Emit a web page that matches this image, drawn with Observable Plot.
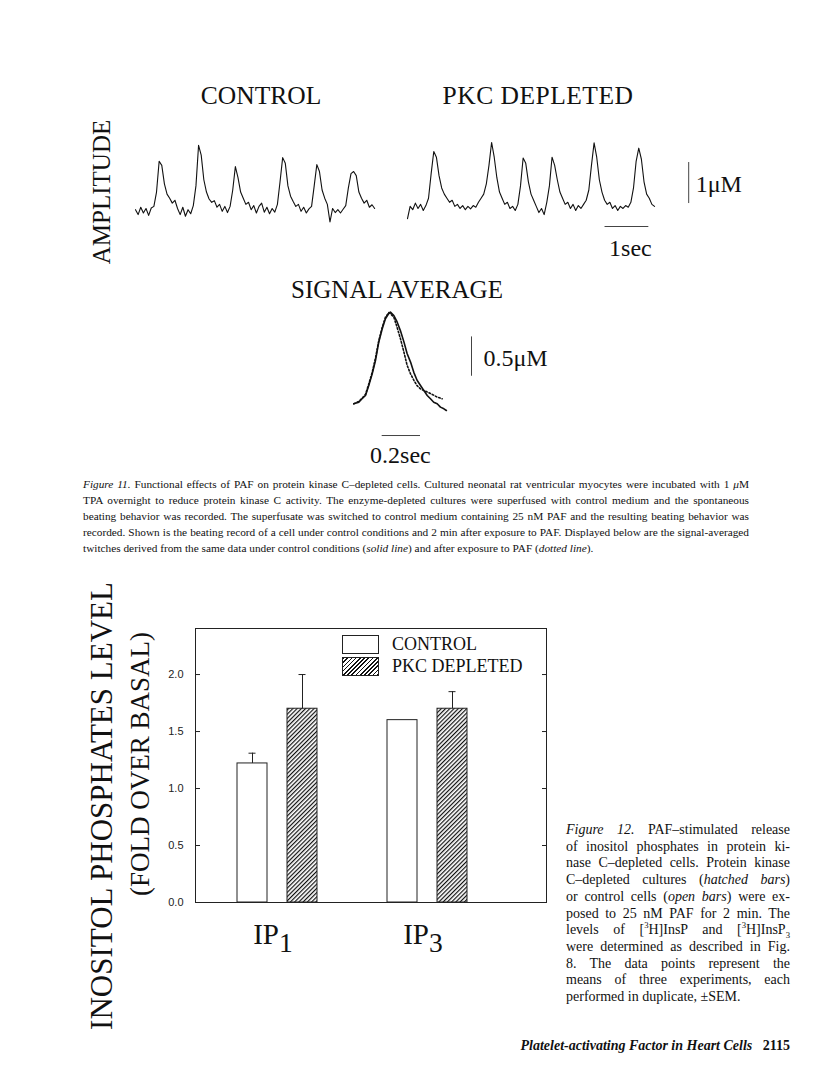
<!DOCTYPE html>
<html><head><meta charset="utf-8">
<script src="https://cdn.jsdelivr.net/npm/d3@7"></script>
<script src="https://cdn.jsdelivr.net/npm/@observablehq/plot@0.6"></script>
<style>
html,body{margin:0;padding:0;background:#fff;}
#page{position:relative;width:816px;height:1066px;overflow:hidden;background:#fff;color:#111;font-family:"Liberation Serif","Times New Roman",serif;}
.abs{position:absolute;}
.nw{white-space:nowrap;}
.cap{font-family:"Liberation Serif","Times New Roman",serif;color:#111;}
.cap sup,.cap sub{font-size:0.62em;line-height:0;}
svg{overflow:visible;}
</style></head><body><div id="page"></div>
<script>
// ---------- DATA ----------
// Figure 11: beating records (Ca amplitude, µM), sampled every 0.06 s
const SAMPLE_DT = 0.06;
const controlStart = 0;
const pkcStart = 6.21;
const controlTrace = [0.02,-0.1,0.08,-0.06,0.05,-0.12,0.06,0.1,0.45,1.2,1.1,0.65,0.4,0.3,0.18,0.25,0.05,-0.1,0.08,-0.14,0.02,-0.08,0.12,0.6,1.59,1.35,0.75,0.45,0.28,0.2,0.24,0.08,0.15,-0.02,0.1,-0.05,0.1,0.5,1.07,0.8,0.45,0.3,0.15,0.2,0.02,0.12,-0.06,0.1,0.18,-0.04,0.08,-0.08,0.05,-0.04,0.15,0.7,1.29,1.15,0.6,0.35,0.22,0.1,0.15,-0.02,0.08,-0.06,0.04,0.1,0.6,1.12,0.95,0.5,0.3,0.15,-0.28,0.05,-0.05,0.02,-0.06,0.03,0.12,0.55,0.9,0.95,0.85,0.45,0.3,0.18,0.25,0.08,0.14,0.05];
const pkcTrace = [-0.2,0.1,0.02,0.18,0.05,0.15,0.0,0.12,0.3,0.9,1.44,1.3,0.85,0.55,0.4,0.3,0.2,0.25,0.1,0.15,0.05,0.12,0.02,0.1,0.04,0.12,0.08,0.2,0.3,0.4,0.65,1.1,1.66,1.3,0.8,0.45,0.3,0.15,0.2,0.05,0.1,0.0,0.15,0.6,1.28,1.15,0.7,0.4,0.25,0.1,-0.05,0.05,-0.1,0.2,0.6,1.3,1.1,0.75,0.45,0.3,0.15,0.2,0.05,0.15,0.0,0.12,0.05,0.15,0.25,0.5,1.1,1.65,1.3,0.75,0.45,0.25,0.15,0.2,0.05,0.12,0.0,0.1,0.05,0.12,0.08,0.2,0.55,1.2,1.52,1.25,0.7,0.4,0.3,0.15,0.1];
// Signal average (time in ms, amplitude in µM)
const avgControlTime = [0,26,43,61,78,96,113,130,148,165,183,191,209,226,243,261,278,296,313,330,348,365,383,400,417,435,452,470,483];
const avgControl = [0,0.02,0.064,0.106,0.233,0.38,0.55,0.78,0.95,1.08,1.15,1.165,1.12,1.04,0.93,0.79,0.64,0.53,0.4,0.3,0.233,0.17,0.106,0.064,0.02,0,-0.042,-0.064,-0.085];
const avgPafTime = [0,26,43,61,78,96,113,130,148,165,183,191,209,226,243,261,278,296,313,330,348,365,383,400,417,435,461];
const avgPaf = [0,0.03,0.07,0.12,0.25,0.4,0.58,0.8,0.97,1.1,1.16,1.145,1.1,0.97,0.83,0.66,0.49,0.38,0.3,0.23,0.19,0.17,0.15,0.13,0.11,0.085,0.064];

// Figure 12: inositol phosphates (fold over basal)
const groups = ["IP1", "IP3"];
const groupSub = ["1", "3"];
const conditions = ["CONTROL", "PKC DEPLETED"];
const controlMean = [1.22, 1.60];
const controlSem = [0.09, 0.0];
const pkcMean = [1.70, 1.70];
const pkcSem = [0.30, 0.15];
const yTicks = [0, 0.5, 1.0, 1.5, 2.0];

// ---------- helpers ----------
const page = document.getElementById("page");
function put(html, css, cls = "abs nw") {
  const d = document.createElement("div");
  d.className = cls; d.innerHTML = html;
  Object.assign(d.style, css);
  page.appendChild(d); return d;
}
function putCenter(html, cx, cy, fs, rot = 0, extra = {}) {
  return put(html, Object.assign({left: cx + "px", top: cy + "px", fontSize: fs + "px", lineHeight: "1",
    transform: `translate(-50%,-50%)` + (rot ? ` rotate(${rot}deg)` : "")}, extra));
}
function placeSvg(svg, left, top) {
  const w = document.createElement("div");
  w.className = "abs"; w.style.left = left + "px"; w.style.top = top + "px";
  w.appendChild(svg); page.appendChild(w);
}
function captionLines(arr, left, top, width, lh, fs) {
  const divs = arr.map((html, i) => {
    const d = document.createElement("div");
    d.className = "abs cap";
    d.style.cssText = `left:${left}px;top:${top + i * lh}px;width:${width}px;font-size:${fs}px;line-height:${lh}px;text-align:justify;text-align-last:${i < arr.length - 1 ? "justify" : "left"};`;
    d.innerHTML = html;
    page.appendChild(d);
    return d;
  });
  // one common font size: the largest at which every line still fits on one line
  let f = fs;
  const wraps = () => divs.some(d => d.offsetHeight > lh * 1.5);
  while (wraps() && f > 6) { f -= 0.1; divs.forEach(d => d.style.fontSize = f + "px"); }
}
const serif = "Liberation Serif, Times New Roman, serif";

// ---------- Figure 11 : traces ----------
putCenter("CONTROL", 261, 96, 25.5);
putCenter("PKC DEPLETED", 538, 96, 25.5, 0, {letterSpacing: "0.5px"});
putCenter("AMPLITUDE", 101, 192, 25, -90);

const traceRows = [
  ...controlTrace.map((v, i) => ({t: controlStart + i * SAMPLE_DT, v, rec: conditions[0]})),
  ...pkcTrace.map((v, i) => ({t: pkcStart + i * SAMPLE_DT, v, rec: conditions[1]}))
];
const tracePlot = Plot.plot({
  width: 680, height: 150, margin: 0,
  style: {background: "transparent", overflow: "visible"},
  x: {domain: [-1.2557, 14.2694], axis: null},
  y: {domain: [-1.463, 2.195], axis: null},
  marks: [
    Plot.line(traceRows, {x: "t", y: "v", z: "rec", stroke: "#111", strokeWidth: 1.1}),
    Plot.ruleX([{t: 12.63, v1: 0.17, v2: 1.17}], {x: "t", y1: "v1", y2: "v2", stroke: "#444", strokeWidth: 1}),
    Plot.ruleY([{v: -0.39, t1: 10.72, t2: 11.72}], {y: "v", x1: "t1", x2: "t2", stroke: "#444", strokeWidth: 1}),
    Plot.text([{t: 12.79, v: 0.634, label: "1μM"}], {x: "t", y: "v", text: "label", textAnchor: "start", fontSize: 24, fontFamily: serif, fill: "#111"}),
    Plot.text([{t: 11.3, v: -0.927, label: "1sec"}], {x: "t", y: "v", text: "label", fontSize: 24, fontFamily: serif, fill: "#111"})
  ]
});
placeSvg(tracePlot, 80, 120);

// ---------- Figure 11 : signal average ----------
putCenter("SIGNAL AVERAGE", 397, 289, 25);
const avgRows = avgControlTime.map((t, i) => ({t, v: avgControl[i]}));
const pafRows = avgPafTime.map((t, i) => ({t, v: avgPaf[i]}));
const avgPlot = Plot.plot({
  width: 240, height: 170, margin: 0,
  style: {background: "transparent", overflow: "visible"},
  x: {domain: [-69.4, 1182.6], axis: null},
  y: {domain: [-0.8475, 1.3126], axis: null},
  marks: [
    Plot.line(pafRows, {x: "t", y: "v", stroke: "#111", strokeWidth: 1.6, strokeDasharray: "1.6,2"}),
    Plot.line(avgRows, {x: "t", y: "v", stroke: "#111", strokeWidth: 1.6}),
    Plot.ruleX([{t: 614, v1: 0.35, v2: 0.85}], {x: "t", y1: "v1", y2: "v2", stroke: "#444"}),
    Plot.ruleY([{v: -0.403, t1: 148, t2: 348}], {y: "v", x1: "t1", x2: "t2", stroke: "#444"}),
    Plot.text([{t: 676, v: 0.576, label: "0.5μM"}], {x: "t", y: "v", text: "label", textAnchor: "start", fontSize: 24, fontFamily: serif, fill: "#111"}),
    Plot.text([{t: 243, v: -0.656, label: "0.2sec"}], {x: "t", y: "v", text: "label", fontSize: 24, fontFamily: serif, fill: "#111"})
  ]
});
placeSvg(avgPlot, 340, 300);

// ---------- Figure 11 caption ----------
captionLines([
  "<i>Figure 11.</i> Functional effects of PAF on protein kinase C–depleted cells. Cultured neonatal rat ventricular myocytes were incubated with 1 <i>μ</i>M",
  "TPA overnight to reduce protein kinase C activity. The enzyme-depleted cultures were superfused with control medium and the spontaneous",
  "beating behavior was recorded. The superfusate was switched to control medium containing 25 nM PAF and the resulting beating behavior was",
  "recorded. Shown is the beating record of a cell under control conditions and 2 min after exposure to PAF. Displayed below are the signal-averaged",
  "twitches derived from the same data under control conditions (<i>solid line</i>) and after exposure to PAF (<i>dotted line</i>)."
], 83, 476, 666, 16, 12.2);

// ---------- Figure 12 : bar chart ----------
const rows = groups.flatMap((g, i) => [
  {key: g + "|" + conditions[0], group: g, cond: conditions[0], mean: controlMean[i], sem: controlSem[i]},
  {key: g + "|" + conditions[1], group: g, cond: conditions[1], mean: pkcMean[i], sem: pkcSem[i]}
]);
const xDomain = [rows[0].key, rows[1].key, "", rows[2].key, rows[3].key];
const errRows = rows.filter(d => d.sem > 0);
const barPlot = Plot.plot({
  width: 396, height: 292,
  marginLeft: 35, marginRight: 10, marginTop: 8, marginBottom: 10,
  style: {background: "transparent", overflow: "visible"},
  x: {domain: xDomain, paddingInner: 0.41, paddingOuter: 1.147, align: 0.342, axis: null},
  y: {domain: [0, 2.404], label: null},
  marks: [
    Plot.barY(rows.filter(d => d.cond === conditions[0]), {x: "key", y: "mean", fill: "white", stroke: "#222", strokeWidth: 1}),
    Plot.barY(rows.filter(d => d.cond === conditions[1]), {x: "key", y: "mean", fill: "url(#hatch12)", stroke: "#222", strokeWidth: 1}),
    Plot.ruleX(errRows, {x: "key", y1: "mean", y2: d => d.mean + d.sem, stroke: "#222"}),
    Plot.tickY(errRows, {x: "key", y: d => d.mean + d.sem, stroke: "#222", insetLeft: 11.5, insetRight: 11.5}),
    Plot.axisY(yTicks, {anchor: "left", tickSize: -5, tickPadding: 17, label: null, tickFormat: d3.format(".1f"), fontSize: 11, fontFamily: "Liberation Sans, Arial, sans-serif", fill: "#222", stroke: "#222"}),
    Plot.axisY(yTicks, {anchor: "right", tickSize: -5, label: null, tickFormat: () => "", stroke: "#222"}),
    Plot.frame({stroke: "#222"})
  ]
});
d3.select(barPlot).insert("defs", ":first-child").html(
  '<pattern id="hatch12" patternUnits="userSpaceOnUse" width="3" height="3" patternTransform="rotate(45)">' +
  '<rect width="3" height="3" fill="#fff"/><line x1="0.6" y1="0" x2="0.6" y2="3" stroke="#111" stroke-width="1.2"/></pattern>');
placeSvg(barPlot, 160, 620);

// group labels under bars, positioned with the plot's own x scale
const xs = barPlot.scale("x");
groups.forEach((g, i) => {
  const a = xs.apply(rows[2 * i].key), b = xs.apply(rows[2 * i + 1].key) + xs.bandwidth;
  putCenter(`IP<span style="font-size:0.95em;position:relative;top:0.28em">${groupSub[i]}</span>`, 160 + (a + b) / 2 - 4, 934, 29);
});

// legend
put("", {left: "342px", top: "635px", width: "35px", height: "17px", border: "1px solid #222", background: "#fff"});
put("", {left: "342px", top: "657px", width: "35px", height: "17px", border: "1px solid #222",
  background: "repeating-linear-gradient(-45deg, #111 0 1.1px, #fff 1.1px 3px)"});
put(conditions[0], {left: "392px", top: "644px", fontSize: "18px", lineHeight: "1", transform: "translateY(-50%)"});
put(conditions[1], {left: "392px", top: "666px", fontSize: "18px", lineHeight: "1", transform: "translateY(-50%)"});

// y titles
putCenter("INOSITOL PHOSPHATES LEVEL", 101, 806, 31, -90);
putCenter("(FOLD OVER BASAL)", 140, 764, 27, -90);

// Figure 12 caption
captionLines([
  "<i>Figure 12.</i> PAF–stimulated release",
  "of inositol phosphates in protein ki-",
  "nase C–depleted cells. Protein kinase",
  "C–depleted cultures (<i>hatched bars</i>)",
  "or control cells (<i>open bars</i>) were ex-",
  "posed to 25 nM PAF for 2 min. The",
  "levels of [<sup>3</sup>H]InsP and [<sup>3</sup>H]InsP<sub>3</sub>",
  "were determined as described in Fig.",
  "8. The data points represent the",
  "means of three experiments, each",
  "performed in duplicate, ±SEM."
], 566, 822, 224, 16.7, 14);

// footer
put("<b><i>Platelet-activating Factor in Heart Cells</i></b>&nbsp;&nbsp;&nbsp;<b>2115</b>",
  {right: "26px", top: "1046px", fontSize: "14px", lineHeight: "1", transform: "translateY(-50%)"});
</script></body></html>
